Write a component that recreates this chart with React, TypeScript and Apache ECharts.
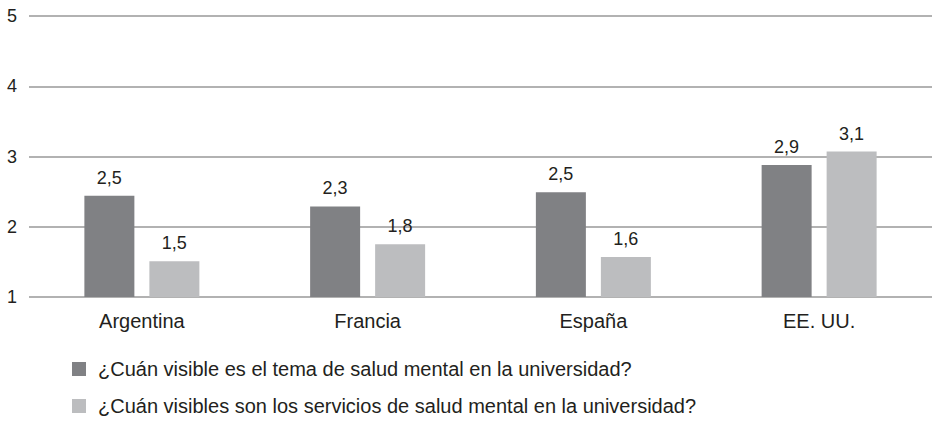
import React, { useEffect, useRef } from "react";
import * as echarts from "echarts";

const categories = ["Argentina", "Francia", "España", "EE. UU."];
const seriesNames = [
  "¿Cuán visible es el tema de salud mental en la universidad?",
  "¿Cuán visibles son los servicios de salud mental en la universidad?",
];
const temaValues = [2.44, 2.29, 2.49, 2.88];
const serviciosValues = [1.51, 1.75, 1.57, 3.07];
const temaLabels = ["2,5", "2,3", "2,5", "2,9"];
const serviciosLabels = ["1,5", "1,8", "1,6", "3,1"];
const yTicks = [1, 2, 3, 4, 5];

const FONT = "'Liberation Sans', Arial, sans-serif";
const TXT = "#231f20";

export default function App() {
  const ref = useRef<HTMLDivElement>(null);
  useEffect(() => {
    if (!ref.current) return;
    const chart = echarts.init(ref.current, null, { renderer: "svg" });
    const labelStyle = {
      show: true,
      position: "top" as const,
      distance: 9,
      fontSize: 18,
      fontFamily: FONT,
      color: TXT,
    };
    const legendBase = {
      orient: "horizontal" as const,
      left: 67,
      itemWidth: 14,
      itemHeight: 14,
      icon: "rect",
      textStyle: { fontSize: 20, fontFamily: FONT, color: TXT, padding: [0, 0, 0, 7] },
    };
    chart.setOption({
      animation: false,
      backgroundColor: "#ffffff",
      textStyle: { fontFamily: FONT },
      grid: { left: 29, top: 16, width: 906, height: 281, containLabel: false },
      legend: [
        { ...legendBase, top: 354, data: [seriesNames[0]] },
        { ...legendBase, top: 391, data: [seriesNames[1]] },
      ],
      xAxis: {
        type: "category",
        data: categories,
        axisLine: { show: false },
        axisTick: { show: false },
        axisLabel: { fontSize: 20, fontFamily: FONT, color: TXT, margin: 14 },
      },
      yAxis: {
        type: "value",
        min: yTicks[0],
        max: yTicks[yTicks.length - 1],
        interval: 1,
        axisLine: { show: false },
        axisTick: { show: false },
        axisLabel: { fontSize: 18, fontFamily: FONT, color: TXT, margin: 12 },
        splitLine: { lineStyle: { color: "#999999", width: 1.6 } },
      },
      series: [
        {
          name: seriesNames[0],
          type: "bar",
          barWidth: 50,
          barGap: "30%",
          itemStyle: { color: "#808184" },
          data: temaValues,
          label: { ...labelStyle, formatter: (p: any) => temaLabels[p.dataIndex] },
        },
        {
          name: seriesNames[1],
          type: "bar",
          barWidth: 50,
          barGap: "30%",
          itemStyle: { color: "#bcbdbf" },
          data: serviciosValues,
          label: { ...labelStyle, formatter: (p: any) => serviciosLabels[p.dataIndex] },
        },
      ],
    });
    return () => chart.dispose();
  }, []);
  return (
    <div
      ref={ref}
      style={{ position: "fixed", left: 0, top: 0, width: 932, height: 421, background: "#fff" }}
    />
  );
}
